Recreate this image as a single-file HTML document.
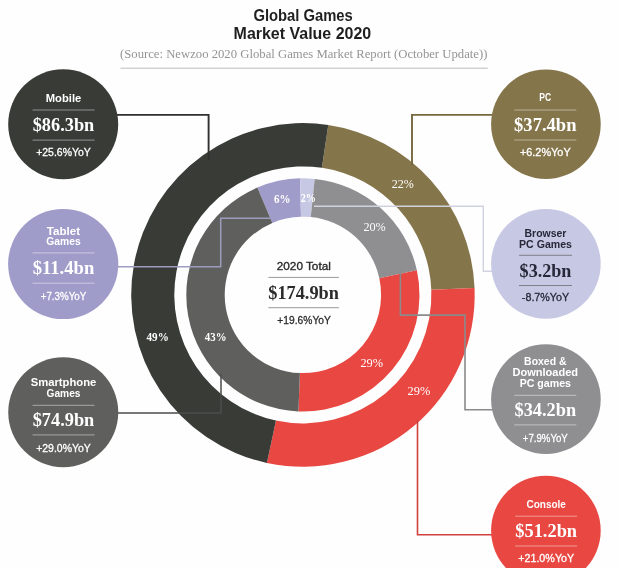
<!DOCTYPE html>
<html lang="en"><head><meta charset="utf-8"><title>Global Games Market Value 2020</title>
<style>
html,body{margin:0;padding:0;background:#fefefe;}
body{width:618px;height:568px;overflow:hidden;}
svg{display:block;}
text{font-family:"Liberation Sans",sans-serif;}
.tt{font-size:16px;font-weight:bold;}
.src{font-family:"Liberation Serif",serif;font-size:13px;}
.bt{font-size:11.4px;font-weight:bold;}
.bv{font-family:"Liberation Serif",serif;font-size:18.5px;font-weight:bold;}
.by{font-size:11.2px;stroke-width:0.3px;}
.pb{font-family:"Liberation Serif",serif;font-size:12px;font-weight:bold;}
.pr{font-family:"Liberation Serif",serif;font-size:12px;}
.ct{font-size:11.3px;stroke:#2b2b2b;stroke-width:0.35px;}
.cv{font-family:"Liberation Serif",serif;font-size:18px;font-weight:bold;}
.cy{font-size:11.3px;stroke:#2b2b2b;stroke-width:0.3px;}
</style></head><body>
<svg width="618" height="568" viewBox="0 0 618 568">
<rect width="618" height="568" fill="#fefefe"/>
<text x="303.1" y="21" class="tt" text-anchor="middle" textLength="99.4" lengthAdjust="spacingAndGlyphs" fill="#1f1f1f">Global Games</text>
<text x="302.4" y="38.8" class="tt" text-anchor="middle" textLength="137.6" lengthAdjust="spacingAndGlyphs" fill="#1f1f1f">Market Value 2020</text>
<text x="303.7" y="57.5" class="src" text-anchor="middle" textLength="367.4" lengthAdjust="spacingAndGlyphs" fill="#949494">(Source: Newzoo 2020 Global Games Market Report (October Update))</text>
<rect x="120.4" y="67.7" width="367.3" height="1" fill="#bdbdbd"/>
<path d="M328.29 124.99A171.8 171.8 0 0 1 474.56 288.01L431.30 289.74A128.5 128.5 0 0 0 321.89 167.81Z" fill="#85754a"/>
<path d="M474.56 288.01A171.8 171.8 0 0 1 266.89 462.88L275.96 420.55A128.5 128.5 0 0 0 431.30 289.74Z" fill="#e84742"/>
<path d="M266.89 462.88A171.8 171.8 0 0 1 328.29 124.99L321.89 167.81A128.5 128.5 0 0 0 275.96 420.55Z" fill="#393b37"/>
<path d="M257.34 187.57A116.6 116.6 0 0 1 300.05 178.33L300.99 216.72A78.2 78.2 0 0 0 272.34 222.92Z" fill="#a09cca"/>
<path d="M300.05 178.33A116.6 116.6 0 0 1 314.68 178.90L310.80 217.10A78.2 78.2 0 0 0 300.99 216.72Z" fill="#c7c8e3"/>
<path d="M314.68 178.90A116.6 116.6 0 0 1 416.87 270.26L379.33 278.37A78.2 78.2 0 0 0 310.80 217.10Z" fill="#8f8f92"/>
<path d="M416.87 270.26A116.6 116.6 0 0 1 298.42 411.41L299.90 373.04A78.2 78.2 0 0 0 379.33 278.37Z" fill="#e84742"/>
<path d="M298.42 411.41A116.6 116.6 0 0 1 257.34 187.57L272.34 222.92A78.2 78.2 0 0 0 299.90 373.04Z" fill="#5f605e"/>

<path d="M117 114.9H208.6V160" fill="none" stroke="#30312f" stroke-width="1.9"/>
<path d="M117 266.7H220.7V218.2H271" fill="none" stroke="#9d9bbf" stroke-width="1.5"/>
<path d="M117 412.9H221V374" fill="none" stroke="#4c4d4b" stroke-width="1.5"/>
<path d="M493 114.9H412V165" fill="none" stroke="#75693f" stroke-width="1.9"/>
<path d="M314 206.2H483.3V271.3H493" fill="none" stroke="#d1d2df" stroke-width="1.4"/>
<path d="M400.4 270V315.1H465V409.7H493" fill="none" stroke="#8a8a8d" stroke-width="1.6"/>
<path d="M417.5 420V534.8H493" fill="none" stroke="#cf413c" stroke-width="1.6"/>

<circle cx="63.2" cy="124.2" r="55" fill="#393b37"/>
<text x="63.5" y="102" class="bt" text-anchor="middle" textLength="35.5" lengthAdjust="spacingAndGlyphs" fill="#fff">Mobile</text>
<rect x="32.5" y="109.5" width="62" height="1" fill="rgba(255,255,255,0.45)"/>
<text x="63.5" y="131.4" class="bv" text-anchor="middle" textLength="61.6" lengthAdjust="spacingAndGlyphs" fill="#fff">$86.3bn</text>
<rect x="32.5" y="139.6" width="62" height="1" fill="rgba(255,255,255,0.45)"/>
<text x="63.5" y="156.1" class="by" text-anchor="middle" textLength="54.7" lengthAdjust="spacingAndGlyphs" fill="#fff" stroke="#fff">+25.6%YoY</text>
<circle cx="63.2" cy="264.0" r="55.1" fill="#a09cca"/>
<text x="63.5" y="235.2" class="bt" text-anchor="middle" textLength="33.3" lengthAdjust="spacingAndGlyphs" fill="#fff">Tablet</text>
<text x="63.5" y="245.4" class="bt" text-anchor="middle" textLength="34.3" lengthAdjust="spacingAndGlyphs" fill="#fff">Games</text>
<rect x="32.5" y="252.4" width="62" height="1" fill="rgba(255,255,255,0.45)"/>
<text x="63.5" y="273.7" class="bv" text-anchor="middle" textLength="61.6" lengthAdjust="spacingAndGlyphs" fill="#fff">$11.4bn</text>
<rect x="32.5" y="282.7" width="62" height="1" fill="rgba(255,255,255,0.45)"/>
<text x="63.5" y="300.1" class="by" text-anchor="middle" textLength="45.6" lengthAdjust="spacingAndGlyphs" fill="#fff" stroke="#fff">+7.3%YoY</text>
<circle cx="63.25" cy="412.2" r="55" fill="#5f605e"/>
<text x="63.5" y="386.3" class="bt" text-anchor="middle" textLength="65.6" lengthAdjust="spacingAndGlyphs" fill="#fff">Smartphone</text>
<text x="63.5" y="396.7" class="bt" text-anchor="middle" textLength="34" lengthAdjust="spacingAndGlyphs" fill="#fff">Games</text>
<rect x="32.5" y="404.8" width="62" height="1" fill="rgba(255,255,255,0.45)"/>
<text x="63.5" y="426.2" class="bv" text-anchor="middle" textLength="61.6" lengthAdjust="spacingAndGlyphs" fill="#fff">$74.9bn</text>
<rect x="32.5" y="434.4" width="62" height="1" fill="rgba(255,255,255,0.45)"/>
<text x="63.5" y="451.8" class="by" text-anchor="middle" textLength="54.7" lengthAdjust="spacingAndGlyphs" fill="#fff" stroke="#fff">+29.0%YoY</text>
<circle cx="545.9" cy="124.2" r="54.8" fill="#85754a"/>
<text x="545.3" y="101.4" class="bt" text-anchor="middle" textLength="11.9" lengthAdjust="spacingAndGlyphs" fill="#fff">PC</text>
<rect x="514.3" y="109.5" width="62" height="1" fill="rgba(255,255,255,0.45)"/>
<text x="545.3" y="131.4" class="bv" text-anchor="middle" textLength="62.4" lengthAdjust="spacingAndGlyphs" fill="#fff">$37.4bn</text>
<rect x="514.3" y="139.5" width="62" height="1" fill="rgba(255,255,255,0.45)"/>
<text x="545.3" y="156" class="by" text-anchor="middle" textLength="50.8" lengthAdjust="spacingAndGlyphs" fill="#fff" stroke="#fff">+6.2%YoY</text>
<circle cx="545.9" cy="263.85" r="54.8" fill="#c7c8e3"/>
<text x="545.5" y="236.6" class="bt" text-anchor="middle" textLength="41.9" lengthAdjust="spacingAndGlyphs" fill="#27283a">Browser</text>
<text x="545.5" y="247.8" class="bt" text-anchor="middle" textLength="53" lengthAdjust="spacingAndGlyphs" fill="#27283a">PC Games</text>
<rect x="519.0" y="254.8" width="53" height="1" fill="#7f7f8c"/>
<text x="545.5" y="276.59999999999997" class="bv" text-anchor="middle" textLength="51.8" lengthAdjust="spacingAndGlyphs" fill="#27283a">$3.2bn</text>
<rect x="519.0" y="285.0" width="53" height="1" fill="#7f7f8c"/>
<text x="545.5" y="301.3" class="by" text-anchor="middle" textLength="47.3" lengthAdjust="spacingAndGlyphs" fill="#27283a" stroke="#27283a">-8.7%YoY</text>
<circle cx="545.9" cy="399.15" r="54.8" fill="#8f8f92"/>
<text x="545.3" y="364.5" class="bt" text-anchor="middle" textLength="42.4" lengthAdjust="spacingAndGlyphs" fill="#fff">Boxed &amp;</text>
<text x="545.3" y="375.9" class="bt" text-anchor="middle" textLength="65.6" lengthAdjust="spacingAndGlyphs" fill="#fff">Downloaded</text>
<text x="545.3" y="386.8" class="bt" text-anchor="middle" textLength="51.3" lengthAdjust="spacingAndGlyphs" fill="#fff">PC games</text>
<rect x="514.3" y="394.8" width="62" height="1" fill="rgba(255,255,255,0.45)"/>
<text x="545.3" y="416.2" class="bv" text-anchor="middle" textLength="61.6" lengthAdjust="spacingAndGlyphs" fill="#fff">$34.2bn</text>
<rect x="514.3" y="424.4" width="62" height="1" fill="rgba(255,255,255,0.45)"/>
<text x="545.3" y="441.5" class="by" text-anchor="middle" textLength="45" lengthAdjust="spacingAndGlyphs" fill="#fff" stroke="#fff">+7.9%YoY</text>
<circle cx="545.9" cy="530.5" r="54.8" fill="#e84742"/>
<text x="546.2" y="508.2" class="bt" text-anchor="middle" textLength="39.5" lengthAdjust="spacingAndGlyphs" fill="#fff">Console</text>
<rect x="515.2" y="515.7" width="62" height="1" fill="rgba(255,255,255,0.45)"/>
<text x="546.2" y="536.6" class="bv" text-anchor="middle" textLength="61.8" lengthAdjust="spacingAndGlyphs" fill="#fff">$51.2bn</text>
<rect x="515.2" y="545.5" width="62" height="1" fill="rgba(255,255,255,0.45)"/>
<text x="546.2" y="562.3" class="by" text-anchor="middle" textLength="56" lengthAdjust="spacingAndGlyphs" fill="#fff" stroke="#fff">+21.0%YoY</text>
<text x="157.65" y="341.1" class="pb" text-anchor="middle" textLength="22.3" lengthAdjust="spacingAndGlyphs" fill="#fff">49%</text>
<text x="215.65" y="341.1" class="pb" text-anchor="middle" textLength="21.7" lengthAdjust="spacingAndGlyphs" fill="#fff">43%</text>
<text x="282.3" y="202.9" class="pb" text-anchor="middle" textLength="16.6" lengthAdjust="spacingAndGlyphs" fill="#fff">6%</text>
<text x="308.4" y="201.5" class="pb" text-anchor="middle" textLength="15.2" lengthAdjust="spacingAndGlyphs" fill="#fff">2%</text>
<text x="402.75" y="187.5" class="pr" text-anchor="middle" textLength="22.1" lengthAdjust="spacingAndGlyphs" fill="#fff">22%</text>
<text x="374.6" y="230.6" class="pr" text-anchor="middle" textLength="22.4" lengthAdjust="spacingAndGlyphs" fill="#fff">20%</text>
<text x="371.75" y="367.2" class="pr" text-anchor="middle" textLength="22.7" lengthAdjust="spacingAndGlyphs" fill="#fff">29%</text>
<text x="418.95000000000005" y="395.3" class="pr" text-anchor="middle" textLength="22.7" lengthAdjust="spacingAndGlyphs" fill="#fff">29%</text>
<text x="303.8" y="269.9" class="ct" text-anchor="middle" textLength="54" lengthAdjust="spacingAndGlyphs" fill="#2b2b2b">2020 Total</text>
<rect x="268.4" y="276.9" width="70.5" height="1" fill="#999"/>
<text x="303.6" y="298.9" class="cv" text-anchor="middle" textLength="70.5" lengthAdjust="spacingAndGlyphs" fill="#2b2b2b">$174.9bn</text>
<rect x="268.4" y="307.2" width="70.5" height="1" fill="#999"/>
<text x="304.1" y="323.9" class="cy" text-anchor="middle" textLength="53.5" lengthAdjust="spacingAndGlyphs" fill="#2b2b2b">+19.6%YoY</text>
</svg>
</body></html>
